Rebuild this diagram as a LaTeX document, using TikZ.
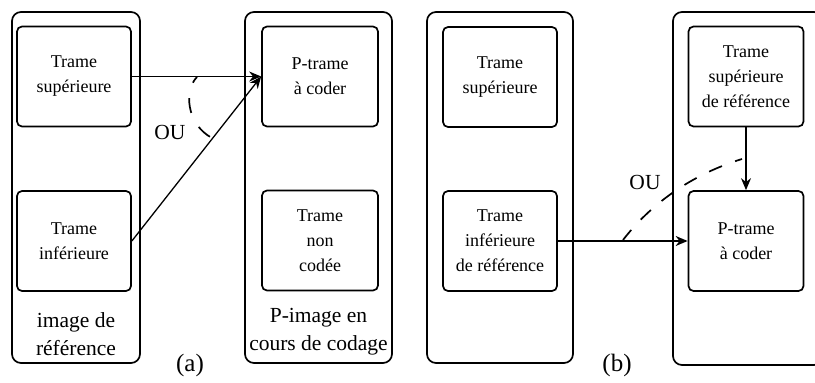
\documentclass[tikz,border=0pt]{standalone}
\usepackage{fontspec}
\setmainfont{Liberation Serif}
\usetikzlibrary{arrows.meta,positioning}
\tikzset{
  frArrow/.style={-{Stealth[length=12pt,width=10pt]},line width=1.3pt},
  frPanel/.style={draw,rounded corners=9pt,line width=1.7pt,
    minimum width=128pt,minimum height=351pt,inner sep=0pt},
  frField/.style={draw,rounded corners=5pt,line width=1.7pt,
    minimum width=114pt,minimum height=100pt,inner sep=0pt,align=center,
    font=\fontsize{18}{25}\selectfont},
  frLabel/.style={align=center,font=\fontsize{21.5}{28}\selectfont},
  frTag/.style={font=\fontsize{25}{28}\selectfont},
  frDash/.style={line width=1.7pt,dash pattern=on 14pt off 14pt}
}
\begin{document}
\begin{tikzpicture}[x=1pt,y=-1pt]
\useasboundingbox (0,0) rectangle (815,383);
\clip (0,0) rectangle (815,383);
% (a)
\node[frPanel] (aref) at (76,187.5) {};
\node[frPanel,minimum width=147pt] (acur) at (318.5,187.5) {};
\node[frField] (asup) at (74,76.5) {Trame\\supérieure};
\node[frField] (ainf) at (74,241) {Trame\\inférieure};
\node[frField,minimum width=116pt] (aptr) at (320,76.5) {P-trame\\à coder};
\node[frField,minimum width=116pt] (anon) at (320,240.5) {Trame\\non\\codée};
\node[frLabel] (arefl) at (76,334) {image de\\référence};
\node[frLabel] (acurl) at (318.5,332) {P-image en\\cours de codage};
\draw[frArrow] (asup) -- (aptr);
\draw[frArrow] (ainf.east) -- (aptr.west);
\draw[frDash,dash pattern=on 15pt off 16pt,dash phase=8pt]
  (197,77) .. controls (184,90) and (186,124) .. (212,138);
\node[frLabel] (aou) at (170,132) {OU};
\node[frTag] (atag) at (190,365) {(a)};
% (b)
\node[frPanel,minimum width=146pt] (bref) at (500,187.5) {};
\node[frPanel,minimum width=150pt,minimum height=353pt] (bcur) at (748,188.5) {};
\node[frField] (bsup) at (500,77) {Trame\\supérieure};
\node[frField] (binf) at (500,241) {Trame\\inférieure\\de référence};
\node[frField,minimum width=115pt] (bsupr) at (746,76.5) {Trame\\supérieure\\de référence};
\node[frField,minimum width=115pt] (bptr) at (746,241) {P-trame\\à coder};
\draw[frArrow] (binf) -- (bptr);
\draw[frArrow] (bsupr) -- (bptr);
\draw[frDash,dash phase=1pt] (623,240) .. controls (650,205) and (690,175) .. (742,159);
\node[frLabel] (bou) at (645,182) {OU};
\node[frTag] (btag) at (617,365) {(b)};
\end{tikzpicture}
\end{document}
